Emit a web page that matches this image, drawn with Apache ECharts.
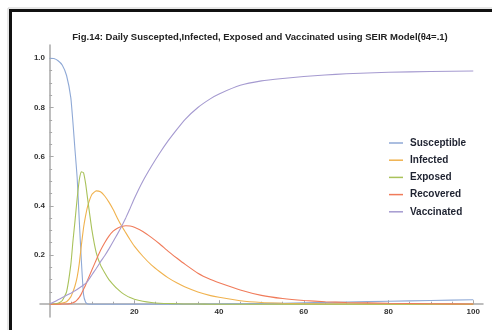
<!DOCTYPE html>
<html>
<head>
<meta charset="utf-8">
<script src="https://cdn.jsdelivr.net/npm/echarts@6/dist/echarts.min.js"></script>
<style>html,body{margin:0;padding:0;background:#fff}#c{width:492px;height:330px}</style>
</head>
<body>
<div id="c"></div>
<script>
var titleText = 'Fig.14: Daily Suscepted,Infected, Exposed and Vaccinated using SEIR Model(θ4=.1)';
var seriesNames = ['Susceptible', 'Infected', 'Exposed', 'Recovered', 'Vaccinated'];
var days = [0, 1, 2, 3, 4, 5, 5.5, 6, 6.5, 7, 7.5, 8, 8.5, 9, 10, 11, 12, 13, 14, 15, 16, 17, 18, 19, 20, 22, 24, 26, 28, 30, 32, 35, 38, 40, 45, 50, 55, 60, 65, 70, 80, 90, 100];
var susceptible = [1.0, 0.999, 0.99, 0.972, 0.93, 0.84, 0.74, 0.625, 0.515, 0.34, 0.175, 0.04, 0.008, 0.001, 0, 0, 0, 0, 0, 0, 0, 0, 0, 0, 0, 0, 0, 0, 0, 0, 0, 0, 0.001, 0.001, 0.002, 0.003, 0.004, 0.006, 0.007, 0.009, 0.012, 0.015, 0.018];
var infected = [0, 0, 0.002, 0.005, 0.01, 0.03, 0.05, 0.075, 0.11, 0.165, 0.24, 0.31, 0.36, 0.4, 0.447, 0.461, 0.457, 0.44, 0.415, 0.385, 0.35, 0.318, 0.29, 0.262, 0.236, 0.195, 0.16, 0.132, 0.107, 0.087, 0.07, 0.05, 0.035, 0.028, 0.014, 0.007, 0.004, 0.002, 0.001, 0.001, 0, 0, 0];
var exposed = [0, 0.001, 0.004, 0.015, 0.05, 0.16, 0.255, 0.34, 0.43, 0.505, 0.538, 0.535, 0.49, 0.425, 0.3, 0.21, 0.16, 0.128, 0.1, 0.08, 0.062, 0.047, 0.036, 0.027, 0.02, 0.012, 0.007, 0.004, 0.003, 0.002, 0.001, 0.001, 0, 0, 0, 0, 0, 0, 0, 0, 0, 0, 0];
var recovered = [0, 0, 0, 0.001, 0.001, 0.003, 0.006, 0.01, 0.018, 0.028, 0.042, 0.06, 0.078, 0.1, 0.14, 0.18, 0.218, 0.25, 0.277, 0.297, 0.309, 0.316, 0.319, 0.318, 0.313, 0.296, 0.272, 0.245, 0.215, 0.188, 0.162, 0.126, 0.1, 0.087, 0.058, 0.036, 0.023, 0.015, 0.01, 0.007, 0.004, 0.002, 0.001];
var vaccinated = [0, 0.009, 0.018, 0.027, 0.036, 0.045, 0.05, 0.055, 0.06, 0.066, 0.072, 0.078, 0.085, 0.094, 0.12, 0.145, 0.172, 0.197, 0.225, 0.255, 0.285, 0.317, 0.352, 0.39, 0.43, 0.5, 0.56, 0.615, 0.665, 0.71, 0.752, 0.8, 0.836, 0.855, 0.89, 0.908, 0.918, 0.926, 0.932, 0.937, 0.943, 0.946, 0.948];
var xLabelTicks = [20, 40, 60, 80, 100];
var xMinorTicks = [5, 10, 15, 25, 30, 35, 45, 50, 55, 65, 70, 75, 85, 90, 95];
var yLabelTicks = [0.2, 0.4, 0.6, 0.8, 1.0];
var yMinorTicks = [0.05, 0.1, 0.15, 0.25, 0.3, 0.35, 0.45, 0.5, 0.55, 0.65, 0.7, 0.75, 0.85, 0.9, 0.95];

var colors = ['#8fa9d6', '#f0b24e', '#a9c25a', '#f07b5a', '#a59ad0'];
var allSeries = [susceptible, infected, exposed, recovered, vaccinated];

function pairs(ys) { return days.map(function (d, i) { return [d, ys[i]]; }); }

var chart = echarts.init(document.getElementById('c'), null, { renderer: 'canvas' });
var axisCol = '#a8a8a8';
var labelFont = { color: '#333', fontSize: 8, fontWeight: 'bold', fontFamily: 'Liberation Sans, Arial, sans-serif' };
var xMin = -2.27, xMax = 102.3, yMin = -0.052, yMax = 1.054;

function xAxisDef(major) {
  return {
    type: 'value', min: xMin, max: xMax, position: 'bottom',
    axisLine: { show: major, onZero: true, lineStyle: { color: axisCol, width: 1.5 } },
    axisTick: { show: true, inside: true, length: major ? 4 : 2.5, lineStyle: { color: axisCol },
      customValues: major ? xLabelTicks : xMinorTicks },
    axisLabel: Object.assign({ show: major, margin: -9, customValues: xLabelTicks }, labelFont),
    splitLine: { show: false }
  };
}
function yAxisDef(major) {
  return {
    type: 'value', min: yMin, max: yMax, position: 'left',
    axisLine: { show: major, onZero: true, lineStyle: { color: axisCol, width: 1.5 } },
    axisTick: { show: true, inside: true, length: major ? 4 : 2.5, lineStyle: { color: axisCol },
      customValues: major ? yLabelTicks : yMinorTicks },
    axisLabel: Object.assign({ show: major, margin: -5, customValues: yLabelTicks,
      formatter: function (v) { return v.toFixed(1); } }, labelFont),
    splitLine: { show: false }
  };
}

chart.setOption({
  animation: false,
  backgroundColor: '#fff',
  title: {
    text: titleText, left: 255, top: 27, textAlign: 'center',
    textStyle: { fontSize: 9.5, fontWeight: 'bold', color: '#222', fontFamily: 'Liberation Sans, Arial, sans-serif' }
  },
  legend: {
    orient: 'vertical', left: 384, top: 133, itemWidth: 14, itemHeight: 1.5, itemGap: 7.2, icon: 'rect',
    data: seriesNames,
    textStyle: { fontSize: 10, fontWeight: 'bold', color: '#1e2230', fontFamily: 'Liberation Sans, Arial, sans-serif', padding: [0, 0, 0, 2] }
  },
  grid: { left: 40, right: 9, top: 45, bottom: 13, containLabel: false },
  xAxis: [xAxisDef(true), xAxisDef(false)],
  yAxis: [yAxisDef(true), yAxisDef(false)],
  graphic: [
    { type: 'rect', shape: { x: 8, y: 8, width: 600, height: 600 }, style: { fill: 'none', stroke: '#cfcfcf', lineWidth: 1 }, silent: true },
    { type: 'rect', shape: { x: 10.5, y: 10.5, width: 600, height: 600 }, style: { fill: 'none', stroke: '#111', lineWidth: 3 }, silent: true }
  ],
  series: seriesNames.map(function (n, i) {
    return {
      name: n, type: 'line', data: pairs(allSeries[i]), showSymbol: false, symbol: 'none',
      smooth: 0.15, xAxisIndex: 0, yAxisIndex: 0,
      lineStyle: { color: colors[i], width: 1.1 }, itemStyle: { color: colors[i] }, z: 3
    };
  })
});
</script>
</body>
</html>
